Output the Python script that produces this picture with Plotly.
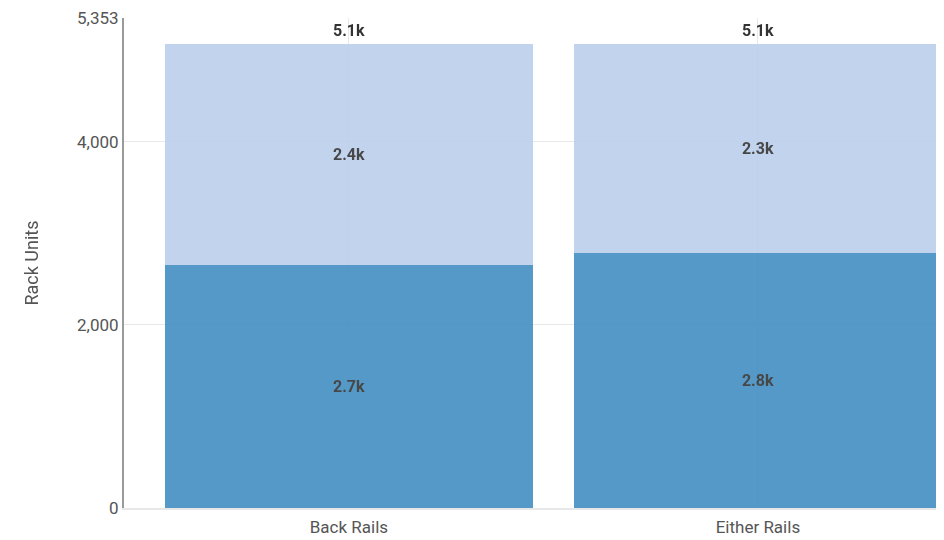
import plotly.graph_objects as go

categories = ["Back Rails", "Either Rails"]
lower_values = [2659, 2790]
upper_values = [2409, 2278]
totals = [a + b for a, b in zip(lower_values, upper_values)]
y_max = 5353
tick_values = [0, 2000, 4000, 5353]
tick_labels = ["0", "2,000", "4,000", "5,353"]


def fmt_k(v):
    return f"{v/1000:.1f}k"


font_family = "Roboto, 'Open Sans', sans-serif"
label_font = dict(family=font_family, size=16, color="#333333", weight="bold")

fig = go.Figure()
fig.add_trace(go.Bar(
    x=categories, y=lower_values, name="Lower",
    marker=dict(color="#428EC2", line=dict(width=0)), opacity=0.9,
    text=[fmt_k(v) for v in lower_values], textposition="inside",
    insidetextanchor="middle", textfont=label_font,
    width=0.9,
))
fig.add_trace(go.Bar(
    x=categories, y=upper_values, name="Upper",
    marker=dict(color="#BBCFEC", line=dict(width=0)), opacity=0.9,
    text=[fmt_k(v) for v in upper_values], textposition="inside",
    insidetextanchor="middle", textfont=label_font,
    width=0.9,
))

for c, t in zip(categories, totals):
    fig.add_annotation(
        x=c, y=t, text=fmt_k(t), showarrow=False,
        yanchor="middle", yshift=14, font=label_font,
    )

fig.update_layout(
    width=944, height=540,
    barmode="stack",
    showlegend=False,
    paper_bgcolor="white", plot_bgcolor="white",
    margin=dict(l=116, r=8, t=10, b=40, autoexpand=False),
    font=dict(family=font_family, size=16, color="#555555"),
    uniformtext=dict(mode="show", minsize=10),
)
fig.update_xaxes(
    range=[-0.55, 1.455],
    automargin=False,
    showgrid=True, gridcolor="#e8e8e8", gridwidth=1,
    showline=True, linecolor="#e8e8e8", linewidth=2,
    ticks="", ticklabelstandoff=3,
    tickfont=dict(family=font_family, size=17, color="#555555"),
    zeroline=False,
)
fig.update_yaxes(
    range=[0, y_max],
    automargin=False,
    tickvals=tick_values, ticktext=tick_labels,
    ticklabeloverflow="allow",
    showgrid=True, gridcolor="#e8e8e8", gridwidth=1,
    showline=True, linecolor="#9a9a9a", linewidth=2,
    ticks="", ticklen=0,
    tickfont=dict(family=font_family, size=17, color="#555555"),
    title=dict(text="Rack Units", standoff=34,
               font=dict(family=font_family, size=18, color="#555555")),
    zeroline=False,
)

fig.write_html("out.html")
